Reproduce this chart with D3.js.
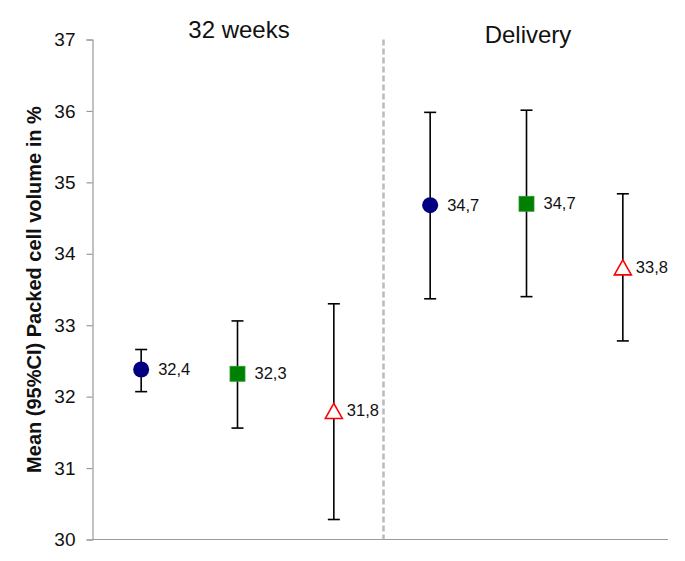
<!DOCTYPE html>
<html>
<head>
<meta charset="utf-8">
<script src="https://cdn.jsdelivr.net/npm/d3@7"></script>
<style>
  body { margin: 0; background: #fff; }
  text { font-family: "Liberation Sans", Arial, Helvetica, sans-serif; }
</style>
</head>
<body>
<div id="chart"></div>
<script>
// data
const groups = ["32 weeks", "Delivery"];
const categories = ["32w-a", "32w-b", "32w-c", "del-a", "del-b", "del-c"];
const groupOf = [0, 0, 0, 1, 1, 1];
const shapes = ["circle", "square", "triangle", "circle", "square", "triangle"];
const means = [32.38, 32.32, 31.80, 34.68, 34.70, 33.81];
const labels = ["32,4", "32,3", "31,8", "34,7", "34,7", "33,8"];
const ciLow = [32.07, 31.56, 30.28, 33.37, 33.40, 32.78];
const ciHigh = [32.66, 33.06, 33.30, 35.98, 36.01, 34.84];
const yTicks = [30, 31, 32, 33, 34, 35, 36, 37];

const width = 685, height = 561;

let svg = d3.select("#chart")
    .append("svg")
    .attr("width", width)
    .attr("height", height);

// x: one band per point, y: linear 30..37
let x = d3.scaleBand()
    .domain(categories)
    .range([93, 671])
    .padding(0);

let y = d3.scaleLinear()
    .domain([30, 37])
    .range([539.5, 39.5]);

let cx = function(i) { return x(categories[i]) + x.bandwidth() / 2; };

// y axis
let yAxis = svg.append("g")
    .attr("transform", "translate(92.5,0)")
    .call(d3.axisLeft(y).tickValues(yTicks).tickSize(6).tickPadding(11).tickFormat(d3.format("d")));
yAxis.select(".domain").attr("stroke", "#999").attr("stroke-width", 1.2);
yAxis.selectAll(".tick line").attr("stroke", "#999").attr("stroke-width", 1.2);
yAxis.selectAll(".tick text")
    .style("font-size", "19px")
    .attr("fill", "#111");

// bottom axis line
svg.append("line")
    .attr("x1", 92).attr("x2", 668)
    .attr("y1", y(30)).attr("y2", y(30))
    .attr("stroke", "#999")
    .attr("stroke-width", 1.2);

// dashed divider between the two groups
let divX = x(categories[3]) + 1.5;
svg.append("line")
    .attr("x1", divX).attr("x2", divX)
    .attr("y1", y(37)).attr("y2", y(30))
    .attr("stroke", "#bbb")
    .attr("stroke-width", 2.5)
    .attr("stroke-dasharray", "6,3");

// y axis title
svg.append("text")
    .attr("transform", `translate(41, ${(y(30) + y(37)) / 2}) rotate(-90)`)
    .style("text-anchor", "middle")
    .style("font-size", "20px")
    .style("font-weight", "bold")
    .attr("fill", "#111")
    .text("Mean (95%CI) Packed cell volume in %");

// group titles
const titleY = [38, 43];
svg.selectAll(".group-title")
    .data(groups)
    .enter()
    .append("text")
    .attr("class", "group-title")
    .attr("x", function(d, g) {
        let idx = d3.range(categories.length).filter(function(i) { return groupOf[i] === g; });
        return d3.mean(idx, cx) + 1.5;
    })
    .attr("y", function(d, g) { return titleY[g]; })
    .style("text-anchor", "middle")
    .style("font-size", "24px")
    .attr("fill", "#111")
    .text(function(d) { return d; });

let idx = d3.range(categories.length);

// error bars
let bars = svg.append("g").selectAll("g").data(idx).enter().append("g")
    .attr("stroke", "#000")
    .attr("stroke-width", 1.6);
bars.append("line")
    .attr("x1", cx).attr("x2", cx)
    .attr("y1", function(i) { return y(ciHigh[i]); })
    .attr("y2", function(i) { return y(ciLow[i]); });
bars.append("line")
    .attr("x1", function(i) { return cx(i) - 6; })
    .attr("x2", function(i) { return cx(i) + 6; })
    .attr("y1", function(i) { return y(ciHigh[i]); })
    .attr("y2", function(i) { return y(ciHigh[i]); });
bars.append("line")
    .attr("x1", function(i) { return cx(i) - 6; })
    .attr("x2", function(i) { return cx(i) + 6; })
    .attr("y1", function(i) { return y(ciLow[i]); })
    .attr("y2", function(i) { return y(ciLow[i]); });

// markers
idx.forEach(function(i) {
    let px = cx(i), py = y(means[i]);
    if (shapes[i] === "circle") {
        svg.append("circle")
            .attr("cx", px).attr("cy", py).attr("r", 8)
            .attr("fill", "#000080");
    } else if (shapes[i] === "square") {
        svg.append("rect")
            .attr("x", px - 7.5).attr("y", py - 7.5)
            .attr("width", 15).attr("height", 15)
            .attr("fill", "#008000")
            .attr("stroke", "#2a9a2a")
            .attr("stroke-width", 0.8);
    } else {
        svg.append("path")
            .attr("d", `M${px},${py - 7.5} L${px + 8.5},${py + 7.5} L${px - 8.5},${py + 7.5} Z`)
            .attr("fill", "#fff")
            .attr("stroke", "#ff0000")
            .attr("stroke-width", 1.6);
    }
});

// value labels
svg.append("g").selectAll("text").data(idx).enter().append("text")
    .attr("x", function(i) { return cx(i) + (shapes[i] === "triangle" ? 13 : 17); })
    .attr("y", function(i) { return y(means[i]) + 5.5; })
    .style("font-size", "16.5px")
    .attr("fill", "#111")
    .text(function(i) { return labels[i]; });
</script>
</body>
</html>
